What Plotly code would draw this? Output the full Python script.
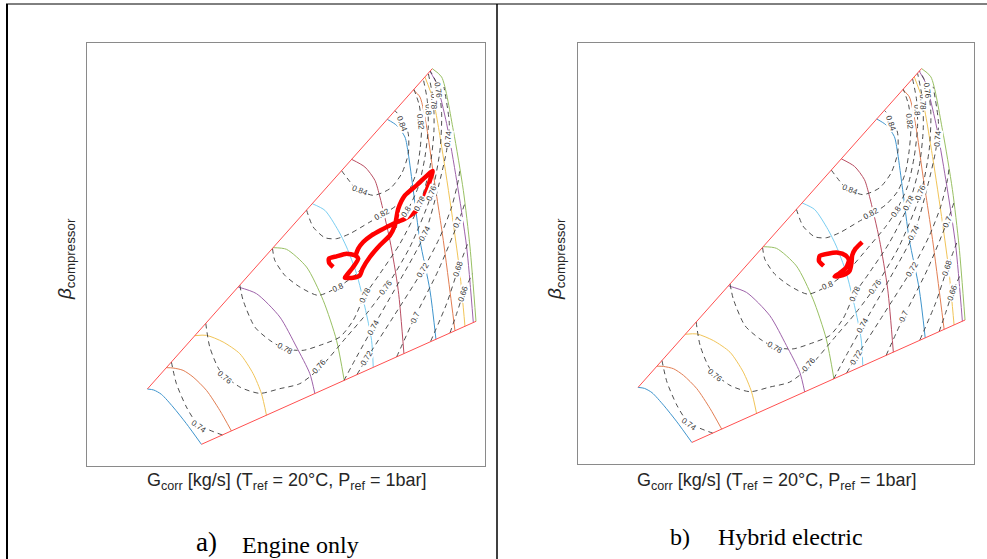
import math
import plotly.graph_objects as go

W, H = 987, 559

# ---------------- map data (map units: x = corrected flow, y = pressure ratio) ----------------
X_RANGE = [0, 119.3]
Y_RANGE = [0, 126.9]

surge_line = [(18.1, 23.1), (103.5, 119.2)]
max_flow_line = [(34.3, 6.5), (116.6, 43.4)]

# constant corrected-speed lines (left to right)
speed_1 = [(18.1, 23.1), (20.0, 22.8), (22.3, 21.5), (25.8, 17.7), (29.8, 12.7), (34.3, 6.5)]
speed_2 = [(23.8, 29.5), (25.8, 29.4), (28.8, 28.7), (31.8, 26.7), (35.8, 22.7), (39.8, 16.7), (43.3, 10.5)]
speed_3 = [(32.3, 39.1), (35.8, 39.2), (40.8, 37.2), (45.8, 33.7), (49.8, 27.7), (52.3, 21.7), (53.8, 15.2)]
speed_4 = [(45.3, 53.7), (50.8, 51.7), (57.8, 44.7), (62.8, 35.7), (66.8, 27.7), (68.3, 21.7)]
speed_5 = [(55.8, 65.5), (59.8, 65.0), (65.8, 59.7), (70.8, 49.7), (74.8, 37.7), (77.1, 25.7)]
speed_6 = [(67.5, 78.7), (71.3, 76.7), (75.3, 70.7), (77.8, 65.7), (80.8, 57.7), (83.3, 47.7), (85.3, 37.7), (85.8, 29.6)]
speed_7 = [(79.3, 92.0), (83.3, 89.7), (86.3, 85.7), (87.8, 80.7), (90.8, 67.7), (93.3, 52.7), (95.0, 33.7)]
speed_8 = [(90.0, 104.0), (92.8, 102.2), (95.3, 98.7), (96.3, 93.7), (97.8, 82.7), (99.8, 67.7), (102.8, 52.7), (104.6, 38.0)]
speed_9 = [(97.8, 112.8), (99.8, 110.7), (101.8, 101.7), (103.8, 87.7), (106.8, 67.7), (110.3, 40.6)]
speed_10 = [(101.3, 116.7), (103.8, 109.7), (106.8, 92.7), (109.8, 72.7), (111.8, 57.7), (113.3, 41.9)]
speed_11 = [(102.8, 118.4), (104.8, 114.7), (107.8, 102.7), (110.8, 85.7), (113.8, 65.7), (115.8, 43.0)]
speed_12 = [(103.5, 119.2), (106.3, 116.7), (109.8, 100.7), (112.8, 82.7), (114.8, 65.7), (116.6, 43.4)]

speed_colors = ["#0072BD", "#D95319", "#EDB120", "#7E2F8E", "#77AC30", "#4DBEEE",
                "#A2142F", "#0072BD", "#D95319", "#EDB120", "#7E2F8E", "#77AC30"]

# isentropic efficiency contours
eff_084 = [(76.3, 88.6), (79.3, 84.7), (80.8, 83.2), (85.8, 81.2), (90.8, 83.2), (94.3, 87.7),
           (96.3, 93.7), (96.3, 99.7), (94.8, 103.7), (92.3, 106.6)]
eff_082 = [(65.8, 76.8), (67.8, 71.7), (71.3, 68.5), (74.8, 68.2), (78.8, 69.7), (84.8, 73.2),
           (88.8, 75.5), (92.8, 78.2), (96.3, 82.2), (98.6, 87.7), (99.8, 94.7), (100.3, 101.7),
           (99.6, 108.2), (98.0, 113.0)]
eff_080 = [(55.6, 65.3), (56.3, 61.7), (59.3, 57.2), (63.8, 53.7), (69.3, 51.2), (75.3, 53.7),
           (80.8, 57.7), (87.8, 65.7), (92.8, 71.7), (95.8, 76.2), (99.3, 83.7), (101.3, 92.7),
           (102.3, 101.7), (102.0, 109.7), (100.8, 116.1)]
eff_078 = [(45.8, 54.3), (46.8, 49.7), (50.3, 41.7), (54.8, 37.7), (59.3, 35.2), (64.8, 34.7),
           (69.8, 36.2), (75.8, 38.7), (79.8, 43.7), (83.3, 51.2), (87.8, 57.7), (93.8, 66.7),
           (99.8, 78.7), (102.8, 89.7), (104.0, 100.7), (103.8, 109.7), (102.3, 117.8)]
eff_076 = [(35.6, 42.8), (36.8, 35.7), (39.8, 28.7), (45.8, 23.7), (51.8, 21.8), (57.8, 23.2),
           (63.8, 24.7), (69.6, 29.2), (77.8, 38.7), (83.8, 45.7), (89.6, 53.5), (96.8, 65.7),
           (103.3, 81.7), (105.8, 94.7), (106.3, 105.7), (105.3, 113.7), (102.9, 118.5)]
eff_074_low = [(25.3, 31.2), (26.8, 24.7), (29.8, 17.7), (32.3, 13.7), (35.8, 11.2), (40.6, 9.3)]
eff_074_high = [(77.0, 25.6), (80.8, 32.7), (85.8, 41.7), (93.8, 55.7), (101.3, 69.7), (105.3, 83.7),
                (107.8, 94.7), (108.6, 102.7), (107.0, 113.7)]
eff_072 = [(80.9, 27.4), (83.8, 32.2), (91.8, 44.7), (100.6, 58.7), (105.8, 68.7), (109.3, 77.7),
           (111.3, 85.7), (111.8, 89.2)]
eff_070 = [(92.8, 32.7), (98.3, 44.7), (105.3, 58.7), (111.3, 73.2), (113.4, 79.2)]
eff_068 = [(103.0, 37.4), (107.8, 48.7), (111.3, 59.2), (114.5, 67.7)]
eff_066 = [(108.8, 39.9), (110.8, 45.7), (112.8, 51.7), (115.5, 57.7)]

eff_levels = [0.84, 0.82, 0.80, 0.78, 0.76, 0.74, 0.74, 0.72, 0.70, 0.68, 0.66]
eff_curves = [eff_084, eff_082, eff_080, eff_078, eff_076, eff_074_low, eff_074_high,
              eff_072, eff_070, eff_068, eff_066]

# contour label positions
labels_084 = [(81.8, 82.7), (94.3, 102.7)]
labels_082 = [(88.3, 75.5), (99.8, 103.2)]
labels_080 = [(75.3, 53.7), (95.8, 76.2), (102.3, 106.7)]
labels_078 = [(59.3, 35.2), (83.3, 51.2), (99.8, 78.7), (103.8, 109.2)]
labels_076 = [(41.3, 26.7), (69.6, 29.9), (89.6, 53.5), (103.3, 81.7), (105.3, 112.7)]
labels_074 = [(33.5, 12.0), (85.8, 41.7), (101.3, 69.7), (108.3, 98.2)]
labels_072 = [(83.8, 32.2), (100.6, 58.7)]
labels_070 = [(98.3, 44.7), (111.3, 73.2)]
labels_068 = [(111.3, 59.2)]
labels_066 = [(112.8, 51.7)]
label_levels = [0.84, 0.82, 0.80, 0.78, 0.76, 0.74, 0.72, 0.70, 0.68, 0.66]
label_sets = [labels_084, labels_082, labels_080, labels_078, labels_076, labels_074,
              labels_072, labels_070, labels_068, labels_066]

# operating-point trajectories
trajectory_engine = [(73.8, 59.7), (72.6, 60.9), (72.5, 62.2), (74.8, 62.9), (77.8, 63.7), (80.3, 63.2),
                     (81.3, 62.2), (79.8, 59.7), (77.8, 57.2), (77.3, 56.5), (79.8, 56.5), (81.8, 57.2),
                     (82.6, 59.2), (84.8, 62.7), (87.8, 66.2), (90.8, 69.2), (92.3, 72.2), (93.3, 77.2),
                     (95.3, 81.2), (98.8, 84.2), (103.6, 88.5), (102.8, 85.7), (101.3, 81.2), (99.8, 77.7),
                     (98.3, 76.2), (95.3, 74.2), (91.8, 72.7), (88.3, 70.9), (85.3, 69.2), (82.8, 67.2),
                     (81.3, 65.2), (80.6, 63.4)]
trajectory_hybrid = [(74.0, 59.7), (72.6, 61.2), (72.8, 62.7), (75.3, 63.4), (78.3, 63.7), (80.6, 62.9),
                     (81.6, 61.5), (80.8, 59.2), (78.8, 57.5), (77.3, 56.5), (79.8, 56.9), (81.8, 58.2),
                     (82.4, 60.7), (82.6, 62.9), (83.6, 64.9), (85.6, 66.9)]

panel_captions = [("a)", "Engine only"), ("b)", "Hybrid electric")]
x_title = "G<sub>corr</sub> [kg/s] (T<sub>ref</sub> = 20°C, P<sub>ref</sub> = 1bar]"
y_title = "<i>β</i><sub>compressor</sub>"

# ---------------- helpers ----------------
def xs(c):
    return [p[0] for p in c]


def ys(c):
    return [p[1] for p in c]


def label_angle(level, px, py):
    best = None
    for lvl, curve in zip(eff_levels, eff_curves):
        if abs(lvl - level) > 1e-9:
            continue
        for (x0, y0), (x1, y1) in zip(curve, curve[1:]):
            dx, dy = x1 - x0, y1 - y0
            L2 = dx * dx + dy * dy
            t = max(0.0, min(1.0, ((px - x0) * dx + (py - y0) * dy) / L2))
            d = (x0 + t * dx - px) ** 2 + (y0 + t * dy - py) ** 2
            if best is None or d < best[0]:
                best = (d, dx, dy)
    ang = math.degrees(math.atan2(best[2], best[1]))
    if ang > 90:
        ang -= 180
    if ang < -90:
        ang += 180
    return -ang


SANS = "Liberation Sans, Arial, sans-serif"
SERIF = "Liberation Serif, Times New Roman, serif"

fig = go.Figure()
annotations = []

panels = [("x", "y", trajectory_engine), ("x2", "y2", trajectory_hybrid)]
for xa, ya, traj in panels:
    for curve, col in zip([speed_1, speed_2, speed_3, speed_4, speed_5, speed_6, speed_7,
                           speed_8, speed_9, speed_10, speed_11, speed_12], speed_colors):
        fig.add_trace(go.Scatter(x=xs(curve), y=ys(curve), mode="lines", opacity=0.75,
                                 line=dict(color=col, width=1, shape="spline", smoothing=0.7),
                                 xaxis=xa, yaxis=ya, hoverinfo="skip", showlegend=False))
    for lvl, curve in zip(eff_levels, eff_curves):
        fig.add_trace(go.Scatter(x=xs(curve), y=ys(curve), mode="lines",
                                 line=dict(color="#3a3a3a", width=0.9, dash="5px,4px",
                                           shape="spline", smoothing=0.7),
                                 xaxis=xa, yaxis=ya, hoverinfo="skip", showlegend=False))
    for bnd in (surge_line, max_flow_line):
        fig.add_trace(go.Scatter(x=xs(bnd), y=ys(bnd), mode="lines",
                                 line=dict(color="#ff5050", width=1),
                                 xaxis=xa, yaxis=ya, hoverinfo="skip", showlegend=False))
    fig.add_trace(go.Scatter(x=xs(traj), y=ys(traj), mode="lines",
                             line=dict(color="#ff0000", width=4.5, shape="spline", smoothing=0.6),
                             xaxis=xa, yaxis=ya, hoverinfo="skip", showlegend=False))
    for lvl, pts in zip(label_levels, label_sets):
        for (px, py) in pts:
            annotations.append(dict(x=px, y=py, xref=xa, yref=ya, text=f"{lvl:g}",
                                    xanchor="center", yanchor="middle",
                                    showarrow=False, textangle=label_angle(lvl, px, py),
                                    font=dict(family=SANS, size=8, color="#333333"),
                                    bgcolor="white", borderpad=0))

# axis titles and captions (paper coords)
for cx, cy_lab in [(286, 66), (776, 556)]:
    annotations.append(dict(x=cx / W, y=1 - 481 / H, xref="paper", yref="paper", text=x_title,
                            xanchor="center", yanchor="middle",
                            showarrow=False, font=dict(family=SANS, size=18, color="#262626")))
    annotations.append(dict(x=cy_lab / W, y=1 - 259 / H, xref="paper", yref="paper", text=y_title,
                            xanchor="center", yanchor="middle",
                            textangle=-90, showarrow=False,
                            font=dict(family=SANS, size=19, color="#262626")))

cap_specs = [((206, 542, 27), (300, 545, 24)), ((680, 537, 24), (790, 537, 24))]
for (lab, desc), ((lx, ly, ls), (dx_, dy_, ds)) in zip(panel_captions, cap_specs):
    annotations.append(dict(x=lx / W, y=1 - ly / H, xref="paper", yref="paper", text=lab,
                            xanchor="center", yanchor="middle",
                            showarrow=False, font=dict(family=SERIF, size=ls, color="black")))
    annotations.append(dict(x=dx_ / W, y=1 - dy_ / H, xref="paper", yref="paper", text=desc,
                            xanchor="center", yanchor="middle",
                            showarrow=False, font=dict(family=SERIF, size=ds, color="black")))

axis_style = dict(showgrid=False, zeroline=False, showticklabels=False, ticks="",
                  showline=True, mirror=True, linecolor="#8a8a8a", linewidth=1, fixedrange=True)

shapes = [
    dict(type="line", xref="paper", yref="paper", x0=7 / W, x1=7 / W, y0=0, y1=1 - 4 / H,
         line=dict(color="black", width=2)),
    dict(type="line", xref="paper", yref="paper", x0=497 / W, x1=497 / W, y0=0, y1=1 - 4 / H,
         line=dict(color="black", width=1.5)),
    dict(type="line", xref="paper", yref="paper", x0=6 / W, x1=1, y0=1 - 4 / H, y1=1 - 4 / H,
         line=dict(color="black", width=1)),
]

fig.update_layout(
    width=W, height=H, margin=dict(l=0, r=0, t=0, b=0),
    paper_bgcolor="white", plot_bgcolor="white", showlegend=False,
    xaxis=dict(domain=[87 / W, 485 / W], range=X_RANGE, anchor="y", **axis_style),
    yaxis=dict(domain=[1 - 466 / H, 1 - 43 / H], range=Y_RANGE, anchor="x", **axis_style),
    xaxis2=dict(domain=[578 / W, 974 / W], range=X_RANGE, anchor="y2", **axis_style),
    yaxis2=dict(domain=[1 - 464 / H, 1 - 43 / H], range=Y_RANGE, anchor="x2", **axis_style),
    annotations=annotations, shapes=shapes,
)

fig.write_html("out.html", config={"displayModeBar": False})
